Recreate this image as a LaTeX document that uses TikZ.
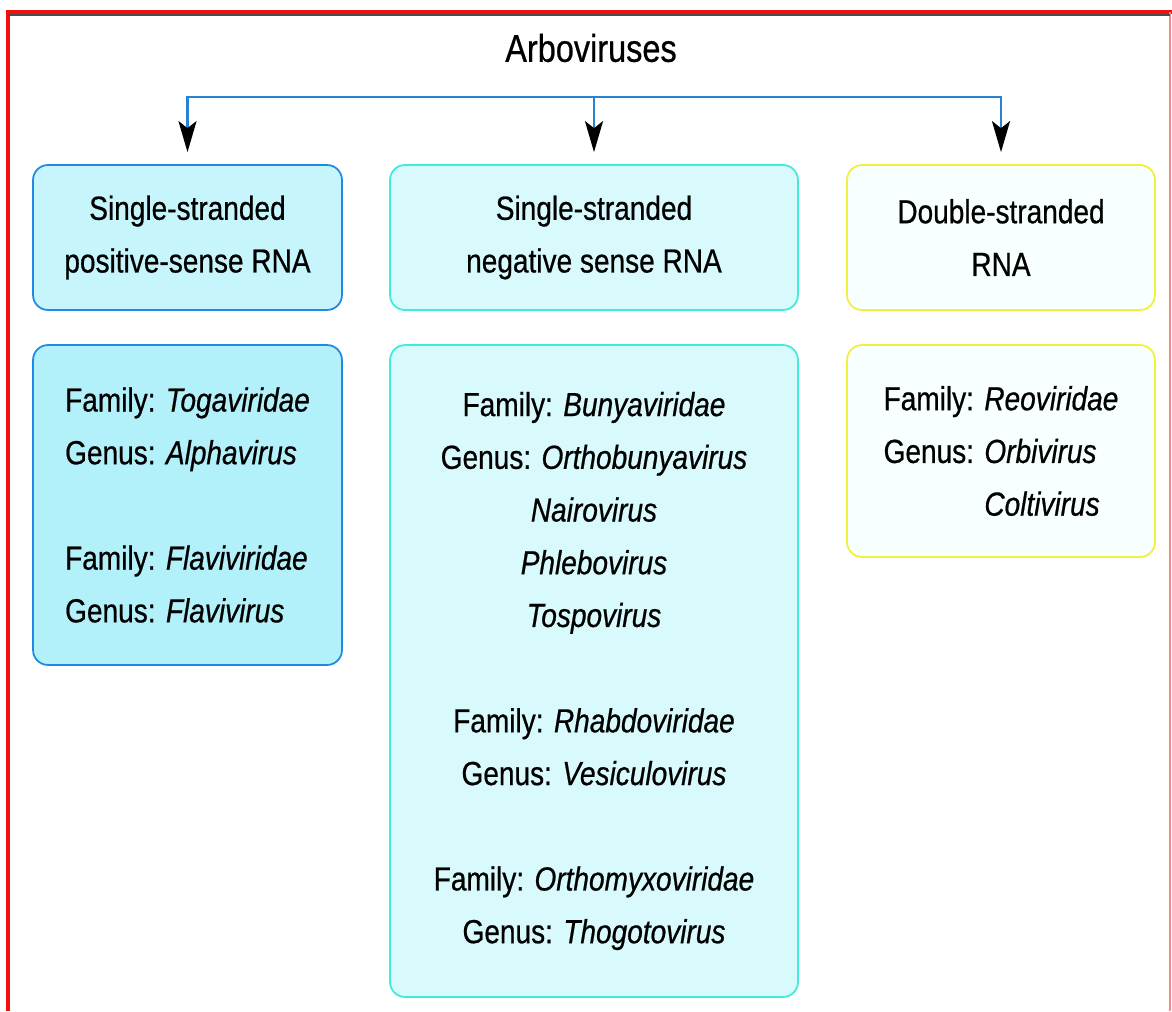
\documentclass[tikz,border=0pt]{standalone}
\usepackage{fontspec}
\setmainfont[FakeStretch=0.84,FakeBold=0.6]{Liberation Sans}
\usepackage{xcolor}
\usetikzlibrary{
  arrows.meta,
  positioning
}
\definecolor{posline}{HTML}{1E8AE6}
\definecolor{posfillA}{HTML}{C6F5FB}
\definecolor{posfillB}{HTML}{B2F0FA}
\definecolor{negline}{HTML}{3FEBDA}
\definecolor{negfill}{HTML}{D8FAFD}
\definecolor{dblline}{HTML}{F2F03A}
\definecolor{dblfill}{HTML}{F7FFFF}
\definecolor{linkblue}{HTML}{2A82D2}
\definecolor{frame}{HTML}{F01010}

\begin{document}
\begin{tikzpicture}[
  x=0.02cm, y=-0.02cm,
  every node/.style = {font=\fontsize{19}{30}\selectfont},
  box/.style = {shape=rectangle, rounded corners=0.3cm, line width=1pt,
    inner sep=0pt, minimum width=#1},
  link/.style = {draw=linkblue, line width=1.5pt,
    -{Stealth[black,length=0.62cm,width=0.36cm,inset=0.14cm]},
    shorten >=0.24cm}]
  \useasboundingbox (0,0) rectangle (1172,1011);
  % frame
  \draw[frame, line width=2.2pt] (8,1011) -- (8,12) -- (1172,12);
  \draw[frame!50, line width=1pt] (1170,12) -- (1170,1011);
  \draw[black!70, line width=0.6pt] (9,15) -- (1170,15);

  \node (arb) at (591,48) {\fontsize{22}{26}\selectfont Arboviruses};
  \coordinate (split) at (594,97);

  % header row
  \node[box=6.18cm, minimum height=2.9cm, draw=posline, fill=posfillA,
    align=center] (hPos) at (187.5,237.5)
    {Single-stranded\\positive-sense RNA};
  \node[box=8.16cm, minimum height=2.9cm, draw=negline, fill=negfill,
    align=center] (hNeg) at (594,237.5)
    {Single-stranded\\negative sense RNA};
  \node[box=6.16cm, minimum height=2.9cm, draw=dblline, fill=dblfill,
    align=center] (hDbl) at (1001,237.5)
    {Double-stranded\\RNA};

  % family boxes
  \node[box=6.18cm, minimum height=6.4cm, draw=posline, fill=posfillB,
    align=left] (bPos) at (187.5,505)
    {Family: \textit{Togaviridae}\\
     Genus: \textit{Alphavirus}\\[30pt]
     Family: \textit{Flaviviridae}\\
     Genus: \textit{Flavivirus}};
  \node[box=8.16cm, minimum height=13.04cm, draw=negline, fill=negfill,
    align=center] (bNeg) at (594,671)
    {Family: \textit{Bunyaviridae}\\
     Genus: \textit{Orthobunyavirus}\\
     \textit{Nairovirus}\\
     \textit{Phlebovirus}\\
     \textit{Tospovirus}\\[30pt]
     Family: \textit{Rhabdoviridae}\\
     Genus: \textit{Vesiculovirus}\\[30pt]
     Family: \textit{Orthomyxoviridae}\\
     Genus: \textit{Thogotovirus}};
  \node[box=6.16cm, minimum height=4.24cm, draw=dblline, fill=dblfill,
    align=left] (bDbl) at (1001,451)
    {Family: \textit{Reoviridae}\\
     Genus: \textit{Orbivirus}\\
     \phantom{Genus: }\textit{Coltivirus}};

  % branches
  \draw[link] (split) -| (hPos);
  \draw[link] (split) -- (hNeg);
  \draw[link] (split) -| (hDbl);
\end{tikzpicture}
\end{document}
